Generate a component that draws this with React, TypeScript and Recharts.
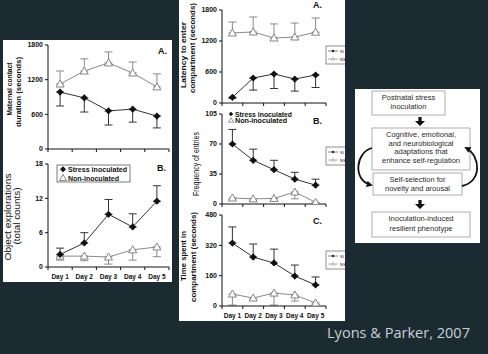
import React from 'react';
import { LineChart, Line, XAxis, YAxis, ErrorBar } from 'recharts';

const days = ['Day 1', 'Day 2', 'Day 3', 'Day 4', 'Day 5'];
const xTicks = [0, 0.5, 1, 1.5, 2, 2.5, 3, 3.5, 4, 4.5, 5];

// left A: maternal contact duration (seconds)
const maternalTicks = [0, 600, 1200, 1800];
const maternalSI = [985, 885, 660, 690, 570];
const maternalSIErr = [240, 245, 245, 225, 205];
const maternalNI = [1125, 1350, 1490, 1315, 1075];
const maternalNIErr = [225, 210, 190, 190, 225];

// left B: object explorations (total counts)
const exploreTicks = [0, 6, 12, 18];
const exploreSI = [2.2, 4.2, 9.2, 7, 11.5];
const exploreSIErr = [1.1, 1.8, 2.6, 2.3, 2.7];
const exploreNI = [1.9, 1.9, 1.75, 3.0, 3.5];
const exploreNIErr = [0.7, 0.8, 1.25, 1.8, 1.7];

// middle A: latency to enter compartment (seconds)
const latencyTicks = [0, 600, 1200, 1800];
const latencySI = [110, 484, 561, 464, 542];
const latencySIErr = [20, 234, 280, 234, 242];
const latencyNI = [1355, 1375, 1258, 1277, 1370];
const latencyNIErr = [213, 290, 272, 271, 275];

// middle B: frequency of entries
const freqTicks = [0, 35, 70, 105];
const freqSI = [70, 51, 40, 29, 22];
const freqSIErr = [17, 13, 11, 8, 7];
const freqNI = [7, 6, 6.5, 14, 2];
const freqNIErr = [2, 2, 2, 8, 1];

// middle C: time spent in compartment (seconds)
const timeTicks = [0, 160, 320, 480];
const timeSI = [332, 258, 227, 158, 111];
const timeSIErr = [85, 69, 73, 58, 42];
const timeNI = [63, 42, 68, 58, 16];
const timeNIErr = [58, 10, 63, 32, 8];

const FONT = "'Liberation Sans', Arial, sans-serif";
const INK = '#111';
const GRAY = '#8a8a8a';

type Dir = 'up' | 'down';

const rows = (si: number[], siErr: number[], siDir: Dir, ni: number[], niErr: number[], niDir: Dir) =>
  si.map((v, i) => ({
    x: i + 0.5,
    si: v,
    ni: ni[i],
    siErr: siDir === 'up' ? [0, siErr[i]] : [siErr[i], 0],
    niErr: niDir === 'up' ? [0, niErr[i]] : [niErr[i], 0],
  }));

const Diamond = (p: any) => {
  const { cx, cy, index } = p;
  if (cx == null || cy == null) return <g key={'sd' + index} />;
  const r = 3.6;
  return <path key={'sd' + index} d={`M${cx},${cy - r}L${cx + r},${cy}L${cx},${cy + r}L${cx - r},${cy}Z`} fill={INK} />;
};

const Triangle = (p: any) => {
  const { cx, cy, index } = p;
  if (cx == null || cy == null) return <g key={'nt' + index} />;
  const r = 4;
  return (
    <path key={'nt' + index} d={`M${cx},${cy - r}L${cx + r},${cy + 3}L${cx - r},${cy + 3}Z`}
      fill="#fff" stroke="#777" strokeWidth={0.9} />
  );
};

const DayTick = (props: any) => {
  const { x, y, payload, showDays } = props;
  const v = payload.value;
  if (Number.isInteger(v)) return <line x1={x} x2={x} y1={y} y2={y + 3} stroke={INK} />;
  if (!showDays) return <g />;
  return (
    <text x={x} y={y + 11.5} textAnchor="middle" fontSize={6.5} fontWeight={700} fill={INK} fontFamily={FONT}>
      {days[Math.floor(v)]}
    </text>
  );
};

interface PlotProps {
  left: number;
  top: number;
  plotW: number;
  plotH: number;
  yMax: number;
  yTicks: number[];
  data: any[];
  showDays?: boolean;
}

const Plot = ({ left, top, plotW, plotH, yMax, yTicks, data, showDays }: PlotProps) => {
  const padT = 6, padR = 6, yW = 40;
  const xH = showDays ? 18 : 8;
  return (
    <div style={{ position: 'absolute', left: left - yW, top: top - padT }}>
      <LineChart width={yW + plotW + padR} height={padT + plotH + xH} data={data}
        margin={{ top: padT, right: padR, bottom: 0, left: 0 }}>
        <XAxis dataKey="x" type="number" domain={[0, 5]} ticks={xTicks} interval={0} height={xH}
          tickSize={0} tickMargin={0} tickLine={false} tick={<DayTick showDays={showDays} />}
          axisLine={{ stroke: INK }} />
        <YAxis type="number" domain={[0, yMax]} ticks={yTicks} interval={0} width={yW} allowDataOverflow
          tickSize={3} tickMargin={2} axisLine={{ stroke: INK }} tickLine={{ stroke: INK }}
          tick={{ fontSize: 7, fontWeight: 700, fill: INK, fontFamily: FONT }} />
        <Line dataKey="ni" stroke={GRAY} strokeWidth={1} dot={Triangle} isAnimationActive={false}>
          <ErrorBar dataKey="niErr" width={4} stroke={GRAY} strokeWidth={1} isAnimationActive={false} />
        </Line>
        <Line dataKey="si" stroke="#333" strokeWidth={1} dot={Diamond} isAnimationActive={false}>
          <ErrorBar dataKey="siErr" width={4} stroke="#333" strokeWidth={1} isAnimationActive={false} />
        </Line>
      </LineChart>
    </div>
  );
};

const VText = ({ x, y, len, bold, size, children }: any) => (
  <text transform={`translate(${x},${y}) rotate(-90)`} textAnchor="middle" dominantBaseline="central"
    fontSize={size} fontWeight={bold ? 700 : 400} fill={INK} fontFamily={FONT}
    textLength={len} lengthAdjust="spacingAndGlyphs">{children}</text>
);

const MiniLegend = ({ y }: { y: number }) => (
  <g>
    <rect x={147} y={y} width={24} height={18} fill="#fff" stroke="#444" strokeWidth={0.6} />
    <line x1={149} x2={159} y1={y + 5} y2={y + 5} stroke="#333" strokeWidth={0.6} />
    <path d={`M154,${y + 3.5}L155.5,${y + 5}L154,${y + 6.5}L152.5,${y + 5}Z`} fill={INK} />
    <text x={161} y={y + 6.5} fontSize={4} fill={INK} fontFamily={FONT}>SI</text>
    <line x1={149} x2={159} y1={y + 13} y2={y + 13} stroke="#777" strokeWidth={0.6} />
    <path d={`M154,${y + 11.3}L155.7,${y + 14}L152.3,${y + 14}Z`} fill="#fff" stroke="#777" strokeWidth={0.5} />
    <text x={161} y={y + 14.5} fontSize={4} fill={INK} fontFamily={FONT}>NS</text>
  </g>
);

const BlockArrow = ({ cx, y }: { cx: number; y: number }) => (
  <path d={`M${cx - 1.6},${y}H${cx + 1.6}V${y + 4}H${cx + 5}L${cx},${y + 9}L${cx - 5},${y + 4}H${cx - 1.6}Z`} fill={INK} />
);

const FlowBox = ({ x, y, w, h, lines, base, cx }: any) => (
  <g>
    <rect x={x} y={y} width={w} height={h} fill="#fff" stroke="#9a9a9a" strokeWidth={0.8} />
    {lines.map((t: string, i: number) => (
      <text key={t} x={cx} y={base[i]} textAnchor="middle" fontSize={7.5} fill="#2a2a2a" fontFamily={FONT}>{t}</text>
    ))}
  </g>
);

export default function App() {
  return (
    <div style={{ position: 'absolute', left: 0, top: 0, width: 488, height: 354, background: '#1c2b31', overflow: 'hidden' }}>
      {/* left figure */}
      <div style={{ position: 'absolute', left: 3, top: 40, width: 169, height: 242, background: '#fff', overflow: 'hidden' }}>
        <Plot left={45} top={5} plotW={121} plotH={104} yMax={1800} yTicks={maternalTicks}
          data={rows(maternalSI, maternalSIErr, 'down', maternalNI, maternalNIErr, 'up')} />
        <Plot left={45} top={124} plotW={121} plotH={103} yMax={18} yTicks={exploreTicks} showDays
          data={rows(exploreSI, exploreSIErr, 'up', exploreNI, exploreNIErr, 'down')} />
        <svg width={169} height={242} style={{ position: 'absolute', left: 0, top: 0, pointerEvents: 'none' }}>
          <VText x={6} y={49} len={53} bold size={7.5}>Maternal contact</VText>
          <VText x={15.5} y={52} len={70} bold size={7.5}>duration (seconds)</VText>
          <VText x={5} y={177} len={87} size={8.5}>Object explorations</VText>
          <VText x={14} y={176} len={57} size={8.5}>(total counts)</VText>
          <text x={155} y={14} fontSize={9} fontWeight={700} fill={INK} fontFamily={FONT}>A.</text>
          <text x={154} y={131} fontSize={9} fontWeight={700} fill={INK} fontFamily={FONT}>B.</text>
          <rect x={54} y={125} width={73} height={17} fill="#fff" stroke="#222" strokeWidth={0.6} />
          <path d="M60,126.3L63,129.3L60,132.3L57,129.3Z" fill={INK} />
          <text x={65} y={131.7} fontSize={7} fontWeight={700} fill={INK} fontFamily={FONT}
            textLength={59} lengthAdjust="spacingAndGlyphs">Stress inoculated</text>
          <path d="M60,134.5L63.5,140.5L56.5,140.5Z" fill="#fff" stroke="#555" strokeWidth={0.7} />
          <text x={65} y={140.5} fontSize={7} fontWeight={700} fill={INK} fontFamily={FONT}
            textLength={51} lengthAdjust="spacingAndGlyphs">Non-inoculated</text>
        </svg>
      </div>

      {/* middle figure */}
      <div style={{ position: 'absolute', left: 179, top: 0, width: 166, height: 321, background: '#fff', overflow: 'hidden' }}>
        <Plot left={43} top={10} plotW={104} plotH={93} yMax={1800} yTicks={latencyTicks}
          data={rows(latencySI, latencySIErr, 'down', latencyNI, latencyNIErr, 'up')} />
        <Plot left={43} top={114} plotW={104} plotH={90} yMax={105} yTicks={freqTicks}
          data={rows(freqSI, freqSIErr, 'up', freqNI, freqNIErr, 'down')} />
        <Plot left={43} top={215} plotW={104} plotH={91} yMax={480} yTicks={timeTicks} showDays
          data={rows(timeSI, timeSIErr, 'up', timeNI, timeNIErr, 'down')} />
        <svg width={166} height={321} style={{ position: 'absolute', left: 0, top: 0, pointerEvents: 'none' }}>
          <VText x={4} y={55} len={66} bold size={7.5}>Latency to enter</VText>
          <VText x={13} y={48} len={90} bold size={7.5}>compartment (seconds)</VText>
          <VText x={17} y={164} len={64} size={8.5}>Frequency of entries</VText>
          <VText x={4} y={256} len={50} bold size={7.5}>Time spent in</VText>
          <VText x={14} y={257} len={90} bold size={7.5}>compartment (seconds)</VText>
          <text x={134} y={8} fontSize={9} fontWeight={700} fill={INK} fontFamily={FONT}>A.</text>
          <text x={134} y={124} fontSize={9} fontWeight={700} fill={INK} fontFamily={FONT}>B.</text>
          <text x={134} y={224} fontSize={9} fontWeight={700} fill={INK} fontFamily={FONT}>C.</text>
          <path d="M52,111.8L54.2,114L52,116.2L49.8,114Z" fill={INK} />
          <text x={56} y={116.5} fontSize={6.8} fontWeight={700} fill={INK} fontFamily={FONT}
            textLength={57} lengthAdjust="spacingAndGlyphs">Stress inoculated</text>
          <path d="M52,117.8L54.6,122.2L49.4,122.2Z" fill="#fff" stroke="#555" strokeWidth={0.6} />
          <text x={56} y={122.8} fontSize={6.8} fontWeight={700} fill={INK} fontFamily={FONT}
            textLength={52} lengthAdjust="spacingAndGlyphs">Non-inoculated</text>
          <MiniLegend y={46} />
          <MiniLegend y={147} />
          <MiniLegend y={251} />
        </svg>
      </div>

      {/* flowchart and citation */}
      <svg width={488} height={354} style={{ position: 'absolute', left: 0, top: 0, pointerEvents: 'none' }}>
        <defs>
          <marker id="ah" viewBox="0 0 10 10" refX="7" refY="5" markerWidth="3.5" markerHeight="3.5" orient="auto">
            <path d="M0,0L10,5L0,10Z" fill={INK} />
          </marker>
        </defs>
        <rect x={355} y={89} width={125} height={154} fill="#fff" />
        <FlowBox x={372} y={91} w={73} h={24} cx={408.5} base={[99.5, 108.5]}
          lines={['Postnatal stress', 'inoculation']} />
        <BlockArrow cx={420} y={117} />
        <FlowBox x={372} y={128} w={98} h={42} cx={421} base={[137, 145.5, 154, 162.5]}
          lines={['Cognitive, emotional,', 'and neurobiological', 'adaptations that', 'enhance self-regulation']} />
        <FlowBox x={373} y={173} w={89} h={22} cx={417.5} base={[181.5, 190.5]}
          lines={['Self-selection for', 'novelty and arousal']} />
        <BlockArrow cx={420} y={200} />
        <FlowBox x={372} y={212} w={98} h={25} cx={421} base={[220.5, 230.5]}
          lines={['Inoculation-induced', 'resilient phenotype']} />
        <path d="M372,148 C356,152 352,180 371,185" fill="none" stroke={INK} strokeWidth={1.8} markerEnd="url(#ah)" />
        <path d="M462,186 C482,182 481,156 466,148" fill="none" stroke={INK} strokeWidth={1.8} markerEnd="url(#ah)" />
        <text x={327} y={338} fontSize={15} fill="#c9d1d3" fontFamily="'Open Sans', Lato, sans-serif"
          textLength={143} lengthAdjust="spacingAndGlyphs">Lyons &amp; Parker, 2007</text>
      </svg>
    </div>
  );
}
